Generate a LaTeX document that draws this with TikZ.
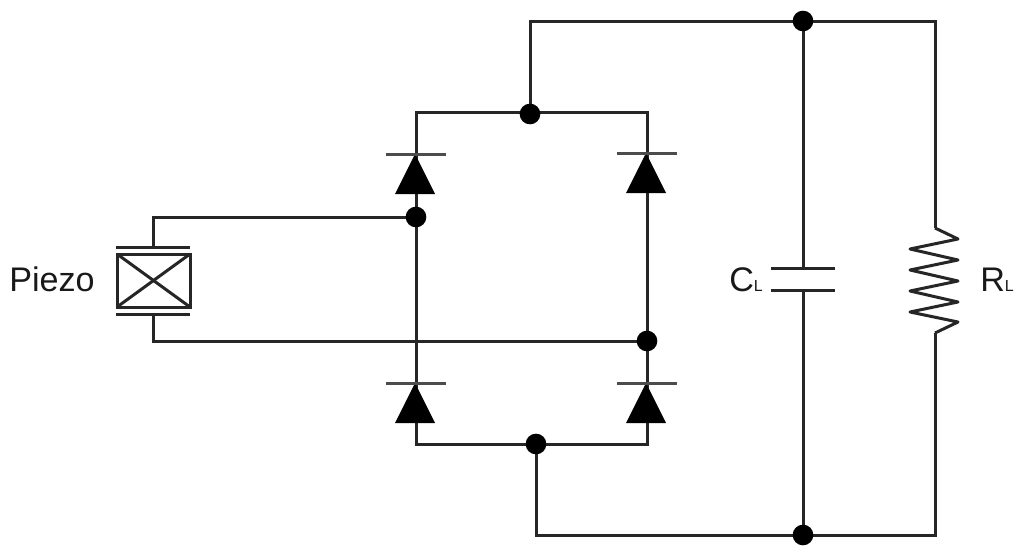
\documentclass[tikz,border=0pt]{standalone}
\usepackage{fontspec}
\usetikzlibrary{backgrounds}
\setmainfont{Liberation Sans}
\tikzset{
  wire/.style={line width=2.25pt,draw=black!85,line join=miter},
  thinwire/.style={line width=2.25pt,draw=black!85},
  junction/.style={circle,fill=black,inner sep=0pt,minimum size=15.5pt},
  lbl/.style={inner sep=0pt,anchor=base west,text=black!90},
  pics/diode/.style={code={
    \fill[black] (-1,0) -- (19,40) -- (-21,40) -- cycle;
    \draw[line width=2.25pt,draw=black!70] (-30,0) -- (30,0);
  }}
}
\newcommand{\lab}[1]{\fontsize{25.6}{25.6}\selectfont #1}
\newcommand{\sublab}[1]{\fontsize{12}{12}\selectfont #1}
\begin{document}
\begin{tikzpicture}[x=0.75pt,y=-0.75pt]
\useasboundingbox (0,0) rectangle (1024,557);
% coordinates
\coordinate (tl) at (416,112);
\coordinate (tr) at (647,112);
\coordinate (bl) at (416,444);
\coordinate (br) at (647,444);
\coordinate (outTL) at (530,21);
\coordinate (outTR) at (935,21);
\coordinate (outBL) at (536,535);
\coordinate (outBR) at (935,535);
\coordinate (pzT) at (153,247);
\coordinate (pzB) at (153,314);
\coordinate (pzTc) at (153,217);
\coordinate (pzBc) at (153,341);
\coordinate (capT) at (803,268);
\coordinate (capB) at (803,290);
\coordinate (resT) at (935,228);
\coordinate (resB) at (935,333);
% junctions
\node[junction] (jTop) at (530,114) {};
\node[junction] (jBot) at (536,444) {};
\node[junction] (jL) at (416,217) {};
\node[junction] (jR) at (647,341) {};
\node[junction] (jCT) at (803,21) {};
\node[junction] (jCB) at (803,535) {};
% wires
\begin{scope}[on background layer]
\draw[wire] (bl) -- (tl) -- (tr) -- (br) -- cycle;
\draw[wire] (jTop.center) -- (outTL) -- (outTR) -- (resT);
\draw[wire] (jBot.center) -- (outBL) -- (outBR) -- (resB);
\draw[wire] (pzT) -- (pzTc) -- (jL.center);
\draw[wire] (pzB) -- (pzBc) -- (jR.center);
\draw[thinwire] (jCT.center) -- (capT);
\draw[thinwire] (capB) -- (jCB.center);
\end{scope}
% diodes
\pic at (416,154) {diode};
\pic at (647,153) {diode};
\pic at (416,383) {diode};
\pic at (647,383) {diode};
% capacitor
\draw[wire] (771,268) -- (835,268);
\draw[wire] (771,290) -- (835,290);
% resistor
\draw[thinwire,line join=round] (resT) -- (958,239) -- (910,249) -- (958,260) -- (910,270) -- (958,281) -- (910,291) -- (958,302) -- (910,312) -- (958,322) -- (resB);
% piezo
\draw[wire] (116,247) -- (190,247);
\draw[wire] (116,314) -- (190,314);
\draw[wire] (117,254) rectangle (190,307);
\draw[wire] (117,254) -- (190,307);
\draw[wire] (117,307) -- (190,254);
% labels
\node[lbl] (piezo) at (9,291) {\lab{Piezo}};
\node[lbl] (cl) at (729,291) {\lab{C}\sublab{L}};
\node[lbl] (rl) at (980,291) {\lab{R}\sublab{L}};
\end{tikzpicture}
\end{document}
